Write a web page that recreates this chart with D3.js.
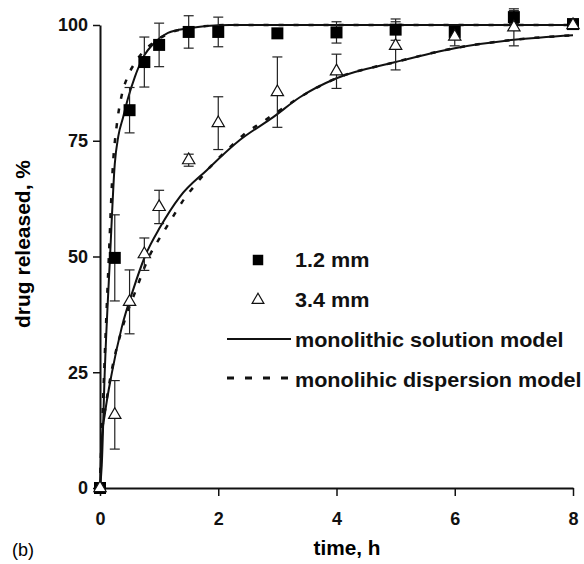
<!DOCTYPE html>
<html>
<head>
<meta charset="utf-8">
<script src="https://cdn.jsdelivr.net/npm/d3@7"></script>
<style>
  body { margin: 0; background: #fff; }
  text { font-family: "Liberation Sans", Arial, sans-serif; }
</style>
</head>
<body>
<div id="chart"></div>
<script>
// measured points (time in h, % released)
var times = [0, 0.25, 0.5, 0.75, 1, 1.5, 2, 3, 4, 5, 6, 7, 8];
var mm12 = [0, 49.7, 81.6, 92, 95.7, 98.5, 98.5, 98.2, 98.4, 99, 98.5, 101.7, 100.2];
var mm12Err = [0, 9.3, 4.9, 5.4, 4.7, 3.5, 3.2, 1, 2.3, 2.3, 1, 1.4, 0.8];
var mm34 = [0, 15.8, 40.2, 50.5, 60.7, 70.8, 78.8, 85.5, 90, 95.5, 97.5, 99.5, 100];
var mm34Err = [0, 7.4, 6.9, 3.5, 3.6, 1.3, 5.7, 7.6, 3.7, 5.2, 2, 4, 0.5];

// model curves
var sol12T = [0, 0.03, 0.08, 0.17, 0.25, 0.31, 0.39, 0.47, 0.59, 0.73, 0.93, 1.15, 1.5, 1.8, 2.2, 8];
var sol12V = [0, 5, 25, 50, 70, 76, 80, 84, 88.8, 93, 96.3, 98.3, 99.3, 99.8, 100, 100];
var disp12T = [0, 0.07, 0.15, 0.22, 0.28, 0.37, 0.46, 0.6, 0.75, 0.95, 1.2, 1.5, 2.2, 8];
var disp12V = [0, 25, 50, 70, 78, 85, 88.6, 92, 94.5, 96.6, 98.4, 99.3, 100, 100];
var sol34T = [0, 0.03, 0.085, 0.2, 0.37, 0.56, 0.76, 1.02, 1.35, 1.81, 2.37, 2.93, 3.38, 4, 5, 6, 7, 8];
var sol34V = [0, 10.4, 16.2, 24.8, 34.8, 42.8, 50, 56.4, 62.9, 68.7, 75.2, 80.1, 84.4, 88.5, 92, 95, 96.8, 97.8];
var disp34T = [0, 0.03, 0.1, 0.2, 0.4, 0.6, 0.85, 1.02, 1.22, 1.39, 1.64, 1.86, 2.15, 2.42, 2.74, 3.0, 3.38, 4, 5, 6, 7, 8];
var disp34V = [0, 11, 18, 25.5, 35.5, 42.5, 50.5, 54.2, 58.3, 61.8, 65.9, 69.3, 73, 76.2, 79, 81.2, 84.4, 88.5, 92, 95, 96.8, 97.8];

var xTicks = [0, 2, 4, 6, 8];
var yTicks = [0, 25, 50, 75, 100];

var width = 584, height = 564;

var svg = d3.select("#chart")
  .append("svg")
    .attr("width", width)
    .attr("height", height);

var x = d3.scaleLinear().domain([0, 8]).range([100, 573]);
var y = d3.scaleLinear().domain([0, 100]).range([488, 25]);

// axes
var xAxis = svg.append("g")
  .attr("transform", "translate(0," + y(0) + ")")
  .call(d3.axisBottom(x).tickValues(xTicks).tickSize(8).tickPadding(16).tickSizeOuter(0));
var yAxis = svg.append("g")
  .attr("transform", "translate(" + x(0) + ",0)")
  .call(d3.axisLeft(y).tickValues(yTicks).tickSize(7).tickPadding(5).tickSizeOuter(0));

[xAxis, yAxis].forEach(function(a) {
  a.select(".domain").attr("stroke", "#111").attr("stroke-width", 2);
  a.selectAll(".tick line").attr("stroke", "#111").attr("stroke-width", 1.5);
  a.selectAll(".tick text")
    .attr("fill", "#111")
    .style("font-family", "Liberation Sans, Arial, sans-serif")
    .style("font-size", "18px")
    .style("font-weight", "bold");
});

// model lines
var line = d3.line()
  .x(function(d) { return x(d[0]); })
  .y(function(d) { return y(d[1]); })
  .curve(d3.curveMonotoneX);

function pairs(ts, vs) { return ts.map(function(t, i) { return [t, vs[i]]; }); }

[[disp12T, disp12V], [disp34T, disp34V]].forEach(function(c) {
  svg.append("path")
    .attr("d", line(pairs(c[0], c[1])))
    .attr("fill", "none")
    .attr("stroke", "#111")
    .attr("stroke-width", 2.5)
    .attr("stroke-dasharray", "5,10");
});
[[sol12T, sol12V], [sol34T, sol34V]].forEach(function(c) {
  svg.append("path")
    .attr("d", line(pairs(c[0], c[1])))
    .attr("fill", "none")
    .attr("stroke", "#111")
    .attr("stroke-width", 2);
});

// error bars
function errorBars(vals, errs) {
  var g = svg.append("g").attr("stroke", "#222").attr("stroke-width", 1.2);
  times.forEach(function(t, i) {
    if (!errs[i]) return;
    var cx = x(t), top = y(vals[i] + errs[i]), bot = y(vals[i] - errs[i]);
    g.append("line").attr("x1", cx).attr("x2", cx).attr("y1", top).attr("y2", bot);
    g.append("line").attr("x1", cx - 5).attr("x2", cx + 5).attr("y1", top).attr("y2", top);
    g.append("line").attr("x1", cx - 5).attr("x2", cx + 5).attr("y1", bot).attr("y2", bot);
  });
}
errorBars(mm34, mm34Err);
errorBars(mm12, mm12Err);

// markers
var square = d3.symbol().type(d3.symbolSquare).size(144);
var triangle = d3.symbol().type(d3.symbolTriangle).size(66);

svg.append("g").selectAll("path")
  .data(times)
  .enter().append("path")
    .attr("d", square)
    .attr("transform", function(d, i) { return "translate(" + x(d) + "," + y(mm12[i]) + ")"; })
    .attr("fill", "#000");

svg.append("g").selectAll("path")
  .data(times)
  .enter().append("path")
    .attr("d", triangle)
    .attr("transform", function(d, i) { return "translate(" + x(d) + "," + y(mm34[i]) + ")"; })
    .attr("fill", "#fff")
    .attr("stroke", "#111")
    .attr("stroke-width", 1.2);

// legend
var leg = svg.append("g")
  .style("font-size", "20px")
  .style("font-weight", "bold")
  .attr("fill", "#111");
function legText(yy, s) {
  leg.append("text").attr("transform", "translate(295," + yy + ") scale(1.08,1)").text(s);
}
leg.append("path").attr("d", d3.symbol().type(d3.symbolSquare).size(110))
  .attr("transform", "translate(258,260)").attr("fill", "#000");
legText(267, "1.2 mm");
leg.append("path").attr("d", d3.symbol().type(d3.symbolTriangle).size(60))
  .attr("transform", "translate(258,300)").attr("fill", "#fff").attr("stroke", "#111").attr("stroke-width", 1.2);
legText(307, "3.4 mm");
leg.append("line").attr("x1", 227).attr("x2", 291).attr("y1", 339).attr("y2", 339)
  .attr("stroke", "#111").attr("stroke-width", 2);
legText(347, "monolithic solution model");
leg.append("line").attr("x1", 227).attr("x2", 290).attr("y1", 378).attr("y2", 378)
  .attr("stroke", "#111").attr("stroke-width", 3).attr("stroke-dasharray", "7,11");
legText(387, "monolihic dispersion model");

// axis titles
svg.append("text")
  .attr("transform", "translate(347,555) scale(1.04,1)")
  .attr("text-anchor", "middle")
  .style("font-size", "20px").style("font-weight", "bold")
  .text("time, h");
svg.append("text")
  .attr("transform", "translate(30,244) rotate(-90) scale(1.05,1)")
  .attr("text-anchor", "middle")
  .style("font-size", "20px").style("font-weight", "bold")
  .text("drug released, %");
svg.append("text")
  .attr("x", 12).attr("y", 556)
  .style("font-size", "18px")
  .text("(b)");
</script>
</body>
</html>
